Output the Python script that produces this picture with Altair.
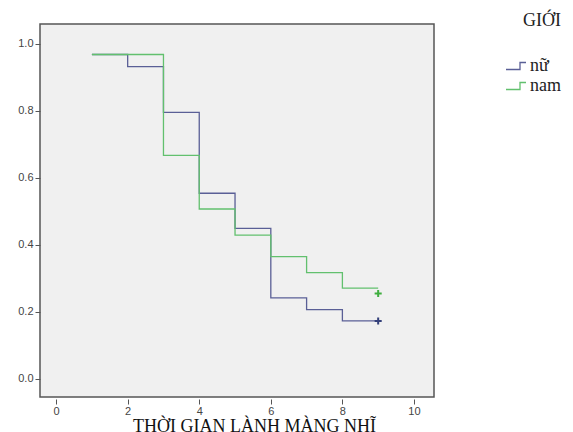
import altair as alt
import pandas as pd

groups = ["nữ", "nam"]
times = [1, 2, 3, 4, 5, 6, 7, 8, 9]
surv_nu = [0.968, 0.932, 0.795, 0.554, 0.449, 0.242, 0.207, 0.173, 0.173]
surv_nam = [0.968, 0.968, 0.667, 0.507, 0.429, 0.365, 0.317, 0.271, 0.271]
censor_time = [9, 9]
censor_surv = [0.173, 0.255]
line_colors = ["#5a5f96", "#62c06e"]
censor_colors = ["#34407a", "#3fae3f"]

rows = []
for t, s in zip(times, surv_nu):
    rows.append({"t": t, "s": s, "g": groups[0]})
for t, s in zip(times, surv_nam):
    rows.append({"t": t, "s": s, "g": groups[1]})
df = pd.DataFrame(rows)
cdf = pd.DataFrame({"t": censor_time, "s": censor_surv, "g": groups})

xscale = alt.Scale(domain=[-0.45, 10.56], nice=False, zero=False)
yscale = alt.Scale(domain=[-0.054, 1.059], nice=False, zero=False)

xaxis = alt.Axis(values=[0, 2, 4, 6, 8, 10], title="THỜI GIAN LÀNH MÀNG NHĨ",
                 domain=False, grid=False, offset=2, tickSize=5, tickColor="#555",
                 labelFont="Liberation Sans", labelFontSize=11, labelColor="#444",
                 labelPadding=1, titleFont="Liberation Serif", titleFontSize=18,
                 titleFontWeight="normal", titleColor="#111", titlePadding=1,
                 titleX=214, titleAnchor="start", titleAlign="center")
yaxis = alt.Axis(values=[0, 0.2, 0.4, 0.6, 0.8, 1.0], format=".1f", title=None,
                 domain=False, grid=False, tickSize=5, tickColor="#555",
                 labelFont="Liberation Sans", labelFontSize=11, labelColor="#444",
                 labelPadding=2)

lines = alt.Chart(df).mark_line(interpolate="step-after", strokeWidth=1.3).encode(
    x=alt.X("t:Q", scale=xscale, axis=xaxis),
    y=alt.Y("s:Q", scale=yscale, axis=yaxis),
    color=alt.Color("g:N", scale=alt.Scale(domain=groups, range=line_colors),
                    sort=groups,
                    legend=alt.Legend(title="GIỚI", orient="none", legendX=465, legendY=-12,
                                      padding=0,
                                      titleFont="Liberation Serif", titleFontSize=18,
                                      titleFontWeight="normal", titleColor="#222",
                                      titleAnchor="end", titlePadding=25,
                                      labelFont="Liberation Serif", labelFontSize=18,
                                      labelColor="#222",
                                      labelExpr="datum.label == 'nam' ? '\u00a0nam' : datum.label",
                                      symbolType="M-1,0.35H0.4V-0.35H1",
                                      symbolSize=400, symbolStrokeWidth=1.3,
                                      symbolOffset=0, labelOffset=3, rowPadding=0)),
)

censor = alt.Chart(cdf).mark_point(shape="M-1,0H1M0,-1V1", filled=False,
                                   strokeWidth=2, size=50, opacity=1).encode(
    x=alt.X("t:Q", scale=xscale),
    y=alt.Y("s:Q", scale=yscale),
    stroke=alt.Stroke("g:N", scale=alt.Scale(domain=groups, range=censor_colors), legend=None),
)

chart = alt.layer(lines, censor).resolve_scale(color="independent").properties(
    width=394, height=373,
    autosize=alt.AutoSizeParams(type="none"),
    padding={"left": 32, "top": 16, "right": 131, "bottom": 40},
    background="white",
).configure_view(fill="#f0f0f0", stroke="#555", strokeWidth=1.5)

chart.save("out.html", embed_options={"renderer": "svg", "actions": False})
